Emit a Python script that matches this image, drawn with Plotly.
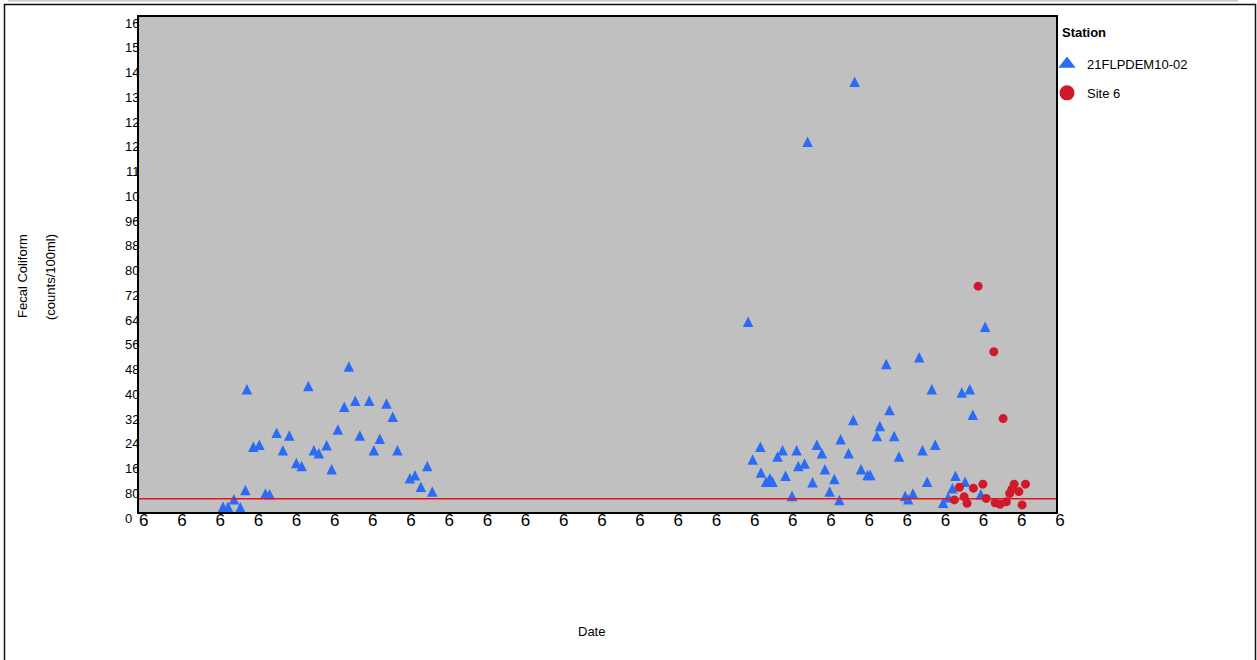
import plotly.graph_objects as go

# Station 21FLPDEM10-02 samples
blue_dates = [
    "1992-03-07", "1992-04-24", "1992-06-20", "1992-08-20", "1992-10-07", "1992-10-22",
    "1992-12-22", "1993-02-18", "1993-04-16", "1993-05-27", "1993-08-02", "1993-10-01",
    "1993-12-01", "1994-02-06", "1994-03-29", "1994-06-01", "1994-07-24", "1994-09-10",
    "1994-11-23", "1995-01-10", "1995-03-11", "1995-05-11", "1995-06-24", "1995-08-24",
    "1995-10-07", "1996-01-05", "1996-02-18", "1996-04-15", "1996-06-18", "1996-08-17",
    "1996-10-01", "1997-01-28", "1997-03-17", "1997-05-13", "1997-07-13", "1997-08-30",
    "2005-12-08", "2006-01-21", "2006-04-04", "2006-04-10", "2006-05-28", "2006-07-05",
    "2006-07-30", "2006-09-16", "2006-11-03", "2006-12-01", "2007-02-01", "2007-03-17",
    "2007-04-02", "2007-06-01", "2007-06-30", "2007-08-16", "2007-09-27", "2007-11-14",
    "2007-12-13", "2008-01-27", "2008-03-12", "2008-04-29", "2008-05-11", "2008-07-26",
    "2008-09-09", "2008-09-22", "2008-11-22", "2009-01-24", "2009-02-19", "2009-04-24",
    "2009-05-22", "2009-07-22", "2009-08-22", "2009-10-06", "2009-11-20", "2010-01-19",
    "2010-02-17", "2010-04-03", "2010-06-02", "2010-07-03", "2010-08-17", "2010-10-01",
    "2010-11-02", "2011-01-17", "2011-03-06", "2011-04-16", "2011-05-15", "2011-07-15",
    "2011-08-15", "2011-09-29", "2011-10-28", "2012-01-12", "2012-02-23",
]
blue_values = [
    17, 17, 41, 15, 71, 397,
    211, 217, 60, 57, 256, 200,
    247, 158, 149, 407, 200, 190,
    216, 138, 267, 340, 470, 360,
    247, 360, 200, 237, 351, 308,
    200, 109, 119, 82, 149, 66,
    615, 170, 211, 128, 98, 109,
    98, 179, 200, 117, 52, 200,
    149, 157, 1197, 96, 217, 190,
    138, 66, 107, 39, 235, 190,
    297, 1391, 138, 120, 120, 246,
    278, 478, 330, 246, 179, 52,
    41, 60, 500, 200, 98, 397,
    217, 30, 48, 77, 117, 386,
    98, 397, 314, 57, 599,
]

# Station Site 6 samples
red_dates = [
    "2011-05-05", "2011-06-22", "2011-08-06", "2011-09-03", "2011-11-03", "2011-12-18",
    "2012-02-01", "2012-03-04", "2012-05-16", "2012-05-28", "2012-07-15", "2012-08-13",
    "2012-09-13", "2012-10-15", "2012-11-04", "2012-11-26", "2013-01-11", "2013-02-11",
    "2013-03-15",
]
red_values = [
    39, 80, 49, 28, 77, 730,
    90, 44, 518, 30, 25, 302,
    33, 60, 73, 90, 66, 23,
    90,
]

# Reference standard drawn across the plot
standard_value = 43

# Axis ticks (labels are cut to the narrow label column)
y_tick_values = [0, 80, 160, 240, 320, 400, 480, 560, 640, 720, 800,
                 880, 960, 1040, 1120, 1200, 1280, 1360, 1440, 1520, 1600]
y_tick_labels = ["0\u00a0\u00a0", "80", "16", "24", "32", "40", "48", "56", "64", "72", "80",
                 "88", "96", "10", "11", "12", "12", "13", "14", "15", "16"]
x_tick_values = ["1990-01-01", "1991-01-01", "1992-01-01", "1993-01-01", "1994-01-01",
                 "1995-01-01", "1996-01-01", "1997-01-01", "1998-01-01", "1999-01-01",
                 "2000-01-01", "2001-01-01", "2002-01-01", "2003-01-01", "2004-01-01",
                 "2005-01-01", "2006-01-01", "2007-01-01", "2008-01-01", "2009-01-01",
                 "2010-01-01", "2011-01-01", "2012-01-01", "2013-01-01", "2014-01-01"]
x_tick_labels = ["6"] * len(x_tick_values)

BLUE = "#2b6cf6"
RED = "#d01a2c"
FONT = "Arial, Liberation Sans, sans-serif"

W, H = 1257, 660
L, R, T, B = 139, 1056, 17, 512  # plot area in pixels
PW, PH = R - L, B - T


def px(x):
    return (x - L) / PW


def py(y):
    return (B - y) / PH


fig = go.Figure()

# upright triangle centred on its point: an arrow-down turned half round and pushed back
TRI = 10.5
fig.add_trace(go.Scatter(
    x=blue_dates, y=blue_values, mode="markers", name="21FLPDEM10-02",
    showlegend=False,
    marker=dict(symbol="arrow-down", size=TRI, angle=180, standoff=TRI / 2,
                color=BLUE, line=dict(width=0)),
))
fig.add_trace(go.Scatter(
    x=red_dates, y=red_values, mode="markers", name="Site 6",
    showlegend=False,
    marker=dict(symbol="circle", size=9, color=RED, line=dict(width=0)),
))

# Legend entries with larger symbols
fig.add_trace(go.Scatter(
    x=[None], y=[None], mode="markers", name="21FLPDEM10-02", legendgroup="a",
    marker=dict(symbol="triangle-up", size=15, color=BLUE, line=dict(width=0)),
))
fig.add_trace(go.Scatter(
    x=[None], y=[None], mode="markers", name="Site 6", legendgroup="b",
    marker=dict(symbol="circle", size=15, color=RED, line=dict(width=0)),
))

shapes = [
    # standard line
    dict(type="line", xref="paper", yref="y", x0=0, x1=1, y0=standard_value, y1=standard_value,
         line=dict(color="#e8141c", width=1.6), layer="above"),
    # outer frame
    dict(type="rect", xref="paper", yref="paper", x0=px(4.5), x1=px(1255.5), y0=py(4.5), y1=py(662),
         line=dict(color="#111111", width=1.5)),
    dict(type="line", xref="paper", yref="paper", x0=px(8), x1=px(1238), y0=py(0.8), y1=py(0.8),
         line=dict(color="#cfcac0", width=1.5)),
]

annotations = [
    dict(text="<b>Station</b>", x=px(1060), y=py(33), xref="paper", yref="paper",
         xanchor="left", yanchor="middle", showarrow=False,
         font=dict(family=FONT, size=13, color="#000")),
    dict(text="Fecal Coliform", x=px(22), y=py(276), xref="paper", yref="paper",
         xanchor="center", yanchor="middle",
         textangle=-90, showarrow=False, font=dict(family=FONT, size=13, color="#000")),
    dict(text="(counts/100ml)", x=px(50), y=py(277), xref="paper", yref="paper",
         xanchor="center", yanchor="middle",
         textangle=-90, showarrow=False, font=dict(family=FONT, size=13, color="#000")),
    dict(text="Date", x=px(591), y=py(631), xref="paper", yref="paper",
         xanchor="center", yanchor="middle",
         showarrow=False, font=dict(family=FONT, size=13, color="#000")),
]

fig.update_layout(
    width=W, height=H,
    margin=dict(l=L, r=W - R, t=T, b=H - B, pad=0, autoexpand=False),
    paper_bgcolor="white", plot_bgcolor="#c0c0c0",
    font=dict(family=FONT, size=13, color="#000"),
    shapes=shapes, annotations=annotations,
    legend=dict(
        x=px(1047), y=py(49), xanchor="left", yanchor="top",
        font=dict(family=FONT, size=13), tracegroupgap=9,
        bgcolor="rgba(0,0,0,0)", itemsizing="trace",
    ),
    xaxis=dict(
        type="date", range=["1989-12-24", "2014-01-01"], automargin=False,
        tickmode="array", tickvals=x_tick_values, ticktext=x_tick_labels,
        tickfont=dict(family=FONT, size=17, color="#000"), ticks="",
        ticklabelshift=4, ticklabelstandoff=-8,
        showgrid=False, zeroline=False,
        showline=True, linecolor="#000", linewidth=2, mirror=True,
    ),
    yaxis=dict(
        range=[0, 1600], automargin=False,
        tickmode="array", tickvals=y_tick_values, ticktext=y_tick_labels,
        tickfont=dict(family=FONT, size=13, color="#000"), ticks="",
        ticklabelshift=6, ticklabelstandoff=-5,
        showgrid=False, zeroline=False,
        showline=True, linecolor="#000", linewidth=2, mirror=True,
    ),
)

fig.write_html("out.html")
